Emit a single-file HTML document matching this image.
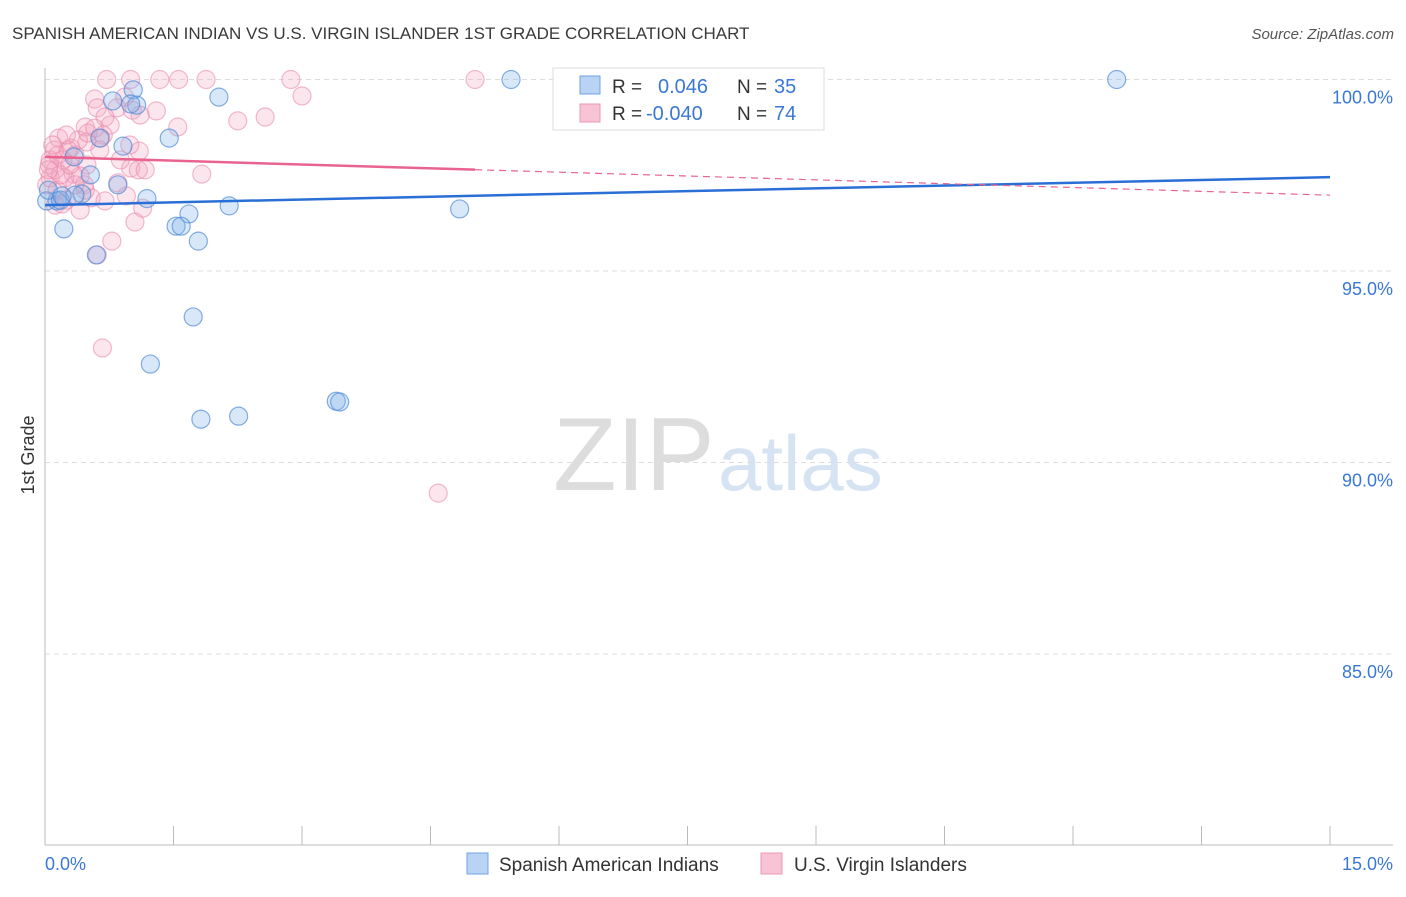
<!DOCTYPE html>
<html><head><meta charset="utf-8"><style>
body{margin:0;background:#fff;font-family:"Liberation Sans",sans-serif;}
svg text{font-family:"Liberation Sans",sans-serif;}
</style></head><body>
<svg id="chart" width="1406" height="892">
<text x="12" y="39" font-size="17" fill="#3a3a3a">SPANISH AMERICAN INDIAN VS U.S. VIRGIN ISLANDER 1ST GRADE CORRELATION CHART</text>
<text x="1394" y="39" font-size="15" fill="#555" text-anchor="end" font-style="italic">Source: ZipAtlas.com</text>
<text x="553" y="490" font-size="104" fill="#ddd" font-family="Liberation Serif">ZIP</text>
<text x="718" y="490" font-size="78" fill="#d5e3f3">atlas</text>
<text transform="translate(34,455) rotate(-90)" font-size="18" fill="#333" text-anchor="middle">1st Grade</text>
<g id="grid"></g><g id="axes"></g><g id="marks"></g><g id="lines"></g>
<g>
<rect x="553" y="68" width="271" height="62" fill="#fff" stroke="#ddd"/>
<rect x="580" y="76" width="20" height="18" fill="#b8d3f3" stroke="#6fa3e0"/>
<rect x="580" y="104" width="20" height="18" fill="#f8c4d5" stroke="#e899b5"/>
<text x="612" y="93" font-size="19" fill="#333">R = </text><text x="658" y="93" font-size="20" fill="#3a78d6">0.046</text>
<text x="737" y="93" font-size="19" fill="#333">N = </text><text x="774" y="93" font-size="20" fill="#3a78d6">35</text>
<text x="612" y="120" font-size="19" fill="#333">R = </text><text x="646" y="120" font-size="20" fill="#3a78d6">-0.040</text>
<text x="737" y="120" font-size="19" fill="#333">N = </text><text x="774" y="120" font-size="20" fill="#3a78d6">74</text>
</g>
<g>
<rect x="467" y="853" width="21" height="21" fill="#b8d3f3" stroke="#6fa3e0"/>
<text x="499" y="871" font-size="19" fill="#333">Spanish American Indians</text>
<rect x="761" y="853" width="21" height="21" fill="#f8c4d5" stroke="#e899b5"/>
<text x="794" y="871" font-size="19" fill="#333">U.S. Virgin Islanders</text>
</g>
</svg>
<script>
const xTicks=[0,1.5,3,4.5,6,7.5,9,10.5,12,13.5,15];
const yTicks=[100,95,90,85];
const yTickLabels=["100.0%","95.0%","90.0%","85.0%"];
const blueX=[5.44,12.51,1.03,2.03,0.79,1.07,1.45,0.91,0.34,0.53,0.85,1.19,0.43,0.14,0.02,2.15,4.84,1.68,1.53,1.59,0.22,1.79,0.60,1.73,1.23,3.40,3.44,2.26,1.82,0.64,0.04,0.18,0.35,0.20,1.00];
const blueY=[100,100,99.73,99.54,99.44,99.33,98.47,98.26,97.98,97.51,97.25,96.89,97.01,96.83,96.83,96.70,96.62,96.49,96.17,96.17,96.10,95.78,95.42,93.80,92.57,91.60,91.58,91.21,91.13,98.47,97.11,96.85,96.98,96.96,99.36];
const pinkX=[0.72,1.00,1.34,1.56,1.88,2.87,5.02,3.00,0.58,0.93,0.61,0.84,1.30,1.02,0.70,1.55,0.47,2.57,2.25,0.68,0.16,0.65,0.49,0.30,1.10,0.11,0.35,0.06,0.21,0.49,1.00,0.12,1.09,1.83,0.33,0.41,0.06,0.23,0.02,0.46,0.85,0.14,0.95,0.54,0.20,1.14,0.25,0.70,1.05,0.78,0.61,0.67,4.59,0.05,0.15,0.27,0.39,0.50,0.58,0.76,1.11,0.47,0.18,0.29,0.09,0.04,0.64,0.88,0.35,0.99,1.17,0.25,0.41,0.12];
const pinkY=[100,100,100,100,100,100,100,99.57,99.49,99.54,99.26,99.26,99.18,99.20,99.02,98.76,98.76,99.02,98.92,98.55,98.47,98.47,98.37,98.21,98.13,98.16,98.03,97.90,97.90,97.77,97.69,97.64,97.64,97.53,97.53,97.48,97.43,97.43,97.25,97.25,97.30,97.11,96.96,96.91,96.75,96.64,96.85,96.83,96.28,95.78,95.42,92.99,89.20,97.77,98.03,98.16,98.42,98.60,98.73,98.81,99.07,97.11,97.51,97.77,98.29,97.64,98.16,97.90,97.25,98.29,97.64,98.55,96.59,96.72];
const blueTrend=[96.72,97.45];
const pinkTrend=[97.98,96.98];
const pinkSolidEnd=5.02;
const NS='http://www.w3.org/2000/svg';
const sx=v=>45+v/15*1285;
const sy=v=>79.5+(100-v)*38.3;
function mk(t,a,p){const e=document.createElementNS(NS,t);for(const k in a)e.setAttribute(k,a[k]);document.getElementById(p).appendChild(e);return e;}
yTicks.forEach((t,i)=>{
 const g=mk('line',{x1:45,x2:1393,y1:sy(t),y2:sy(t),stroke:'#ddd','stroke-dasharray':'5,4'},'grid');
 
 
 const l=mk('text',{x:1393,y:sy(t)+24,'font-size':18,fill:'#3a78d6','text-anchor':'end'},'axes');
 l.textContent=yTickLabels[i];
 
 
});
mk('line',{x1:45,x2:45,y1:68,y2:845,stroke:'#bbb'},'axes');
mk('line',{x1:45,x2:1393,y1:845,y2:845,stroke:'#bbb'},'axes');
xTicks.forEach(t=>{const e=mk('line',{x1:sx(t),x2:sx(t),y1:826,y2:845,stroke:'#bbb'},'axes');
 
 });
const xl0=mk('text',{x:45,y:870,'font-size':18,fill:'#3a78d6'},'axes');xl0.textContent='0.0%';


const xl1=mk('text',{x:1393,y:870,'font-size':18,fill:'#3a78d6','text-anchor':'end'},'axes');xl1.textContent='15.0%';


pinkX.forEach((x,i)=>{const c=mk('circle',{cx:sx(x),cy:sy(pinkY[i]),r:9,fill:'rgba(243,165,195,0.28)',stroke:'rgba(232,140,172,0.6)','stroke-width':1.2},'marks');
 
 });
blueX.forEach((x,i)=>{const c=mk('circle',{cx:sx(x),cy:sy(blueY[i]),r:9,fill:'rgba(130,178,232,0.3)',stroke:'rgba(80,140,215,0.7)','stroke-width':1.2},'marks');
 
 });
const pAt=x=>pinkTrend[0]+(pinkTrend[1]-pinkTrend[0])*x/15;
const b=mk('line',{x1:sx(0),y1:sy(blueTrend[0]),x2:sx(15),y2:sy(blueTrend[1]),stroke:'#2a6fd6','stroke-width':2.5},'lines');


const p=mk('line',{x1:sx(0),y1:sy(pAt(0)),x2:sx(pinkSolidEnd),y2:sy(pAt(pinkSolidEnd)),stroke:'#e8648f','stroke-width':2.5},'lines');


const pd=mk('line',{x1:sx(pinkSolidEnd),y1:sy(pAt(pinkSolidEnd)),x2:sx(15),y2:sy(pAt(15)),stroke:'#e8648f','stroke-width':1.2,'stroke-dasharray':'7,5'},'lines');


</script>
</body></html>
